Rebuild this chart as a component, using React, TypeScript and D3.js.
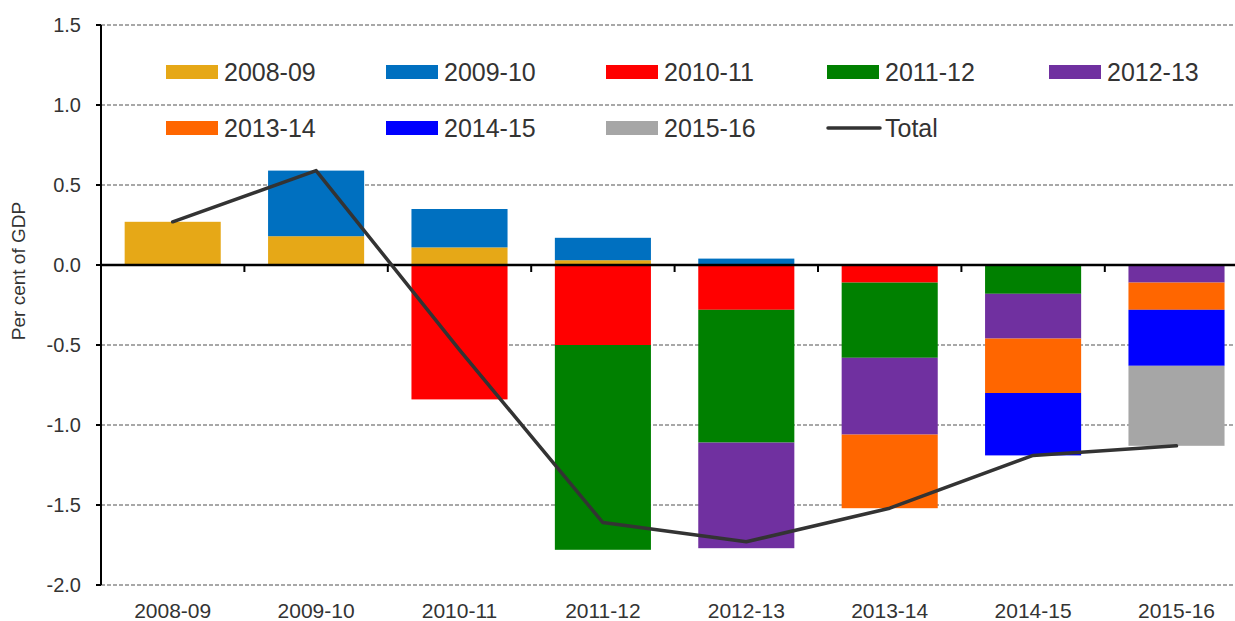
import * as React from 'react';
import * as d3 from 'd3';

const categories = ['2008-09', '2009-10', '2010-11', '2011-12', '2012-13', '2013-14', '2014-15', '2015-16'];
const seriesNames = ['2008-09', '2009-10', '2010-11', '2011-12', '2012-13', '2013-14', '2014-15', '2015-16'];
const seriesColors = ['#E6A817', '#0070C0', '#FF0000', '#008000', '#7030A0', '#FF6600', '#0000FF', '#A6A6A6'];

const s0809 = [0.27, 0.18, 0.11, 0.03, 0, 0, 0, 0];
const s0910 = [0, 0.41, 0.24, 0.14, 0.04, 0, 0, 0];
const s1011 = [0, 0, -0.84, -0.5, -0.28, -0.11, 0, 0];
const s1112 = [0, 0, 0, -1.28, -0.83, -0.47, -0.18, 0];
const s1213 = [0, 0, 0, 0, -0.66, -0.48, -0.28, -0.11];
const s1314 = [0, 0, 0, 0, 0, -0.46, -0.34, -0.17];
const s1415 = [0, 0, 0, 0, 0, 0, -0.39, -0.35];
const s1516 = [0, 0, 0, 0, 0, 0, 0, -0.5];
const total = [0.27, 0.59, -0.53, -1.61, -1.73, -1.52, -1.19, -1.13];

const yTicks = [1.5, 1.0, 0.5, 0.0, -0.5, -1.0, -1.5, -2.0];

const allSeries = [s0809, s0910, s1011, s1112, s1213, s1314, s1415, s1516];

const FONT = '"Liberation Sans", Arial, sans-serif';
const TEXT = '#333333';

export default function App() {
  const width = 1235;
  const height = 621;
  const margin = { top: 25, left: 101 };
  const plotRight = 101 + 8 * 143.4;

  const rows = categories.map((c, i) => {
    const r: Record<string, number | string> = { cat: c };
    seriesNames.forEach((s, j) => {
      r[s] = allSeries[j][i];
    });
    return r;
  });

  const stack = d3
    .stack<Record<string, number | string>>()
    .keys(seriesNames)
    .value((d, k) => d[k] as number)
    .offset(d3.stackOffsetDiverging);
  const stacked = stack(rows);

  const x = d3
    .scaleBand()
    .domain(categories)
    .range([margin.left, plotRight])
    .paddingInner(0.33)
    .paddingOuter(0.165);

  const y = d3.scaleLinear().domain([-2, 1.5]).range([585, margin.top]);

  const line = d3
    .line<number>()
    .x((_, i) => (x(categories[i]) as number) + x.bandwidth() / 2)
    .y((d) => y(d));

  const step = x.step();

  const legendCols = [166, 386, 606, 827, 1049];
  const legendRows = [72, 128];

  return (
    <svg width={width} height={height} style={{ position: 'absolute', left: 0, top: 0 }} fontFamily={FONT}>
      <rect width={width} height={height} fill="#fff" />
      {/* gridlines */}
      {yTicks
        .filter((t) => t !== 0)
        .map((t) => (
          <line
            key={t}
            x1={margin.left}
            x2={width}
            y1={y(t)}
            y2={y(t)}
            stroke="#8c8c8c"
            strokeWidth={1.3}
            strokeDasharray="4,2"
          />
        ))}
      {/* bars */}
      {stacked.map((s, j) => (
        <g key={s.key} fill={seriesColors[j]}>
          {s.map((d, i) =>
            d[1] - d[0] === 0 ? null : (
              <rect
                key={i}
                x={x(categories[i])}
                width={x.bandwidth()}
                y={y(Math.max(d[0], d[1]))}
                height={Math.abs(y(d[0]) - y(d[1]))}
              />
            )
          )}
        </g>
      ))}
      {/* zero line and category ticks */}
      <line x1={margin.left} x2={width} y1={y(0)} y2={y(0)} stroke="#000" strokeWidth={2.5} />
      {categories.map((c, i) =>
        i === 0 ? null : (
          <line
            key={c}
            x1={margin.left + i * step}
            x2={margin.left + i * step}
            y1={y(0)}
            y2={y(0) + 7}
            stroke="#000"
            strokeWidth={2}
          />
        )
      )}
      {/* y axis */}
      <line x1={margin.left} x2={margin.left} y1={y(1.5)} y2={y(-2)} stroke="#000" strokeWidth={2} />
      {yTicks.map((t) => (
        <g key={t}>
          <line x1={margin.left - 5} x2={margin.left} y1={y(t)} y2={y(t)} stroke="#000" strokeWidth={2} />
          <text x={81} y={y(t)} dy="0.35em" textAnchor="end" fontSize={20} fill={TEXT}>
            {t.toFixed(1)}
          </text>
        </g>
      ))}
      <text
        transform={`translate(25, ${y(0) + 6}) rotate(-90)`}
        textAnchor="middle"
        fontSize={19}
        fill={TEXT}
      >
        Per cent of GDP
      </text>
      {/* x labels */}
      {categories.map((c) => (
        <text
          key={c}
          x={(x(c) as number) + x.bandwidth() / 2}
          y={611}
          dy="0.35em"
          textAnchor="middle"
          fontSize={21}
          fill={TEXT}
        >
          {c}
        </text>
      ))}
      {/* total line */}
      <path d={line(total) || ''} fill="none" stroke="#333333" strokeWidth={3.5} strokeLinejoin="round" strokeLinecap="round" />
      {/* legend */}
      {seriesNames.map((s, j) => {
        const col = j % 5;
        const row = Math.floor(j / 5);
        const lx = legendCols[col];
        const ly = legendRows[row];
        return (
          <g key={s}>
            <rect x={lx} y={ly - 7} width={52} height={14} fill={seriesColors[j]} />
            <text x={lx + 58} y={ly} dy="0.36em" fontSize={25} fill={TEXT}>
              {s}
            </text>
          </g>
        );
      })}
      <g>
        <line
          x1={legendCols[3] + 1}
          x2={legendCols[3] + 53}
          y1={legendRows[1]}
          y2={legendRows[1]}
          stroke="#333333"
          strokeWidth={3.5}
          strokeLinecap="round"
        />
        <text x={legendCols[3] + 58} y={legendRows[1]} dy="0.36em" fontSize={25} fill={TEXT}>
          Total
        </text>
      </g>
    </svg>
  );
}
